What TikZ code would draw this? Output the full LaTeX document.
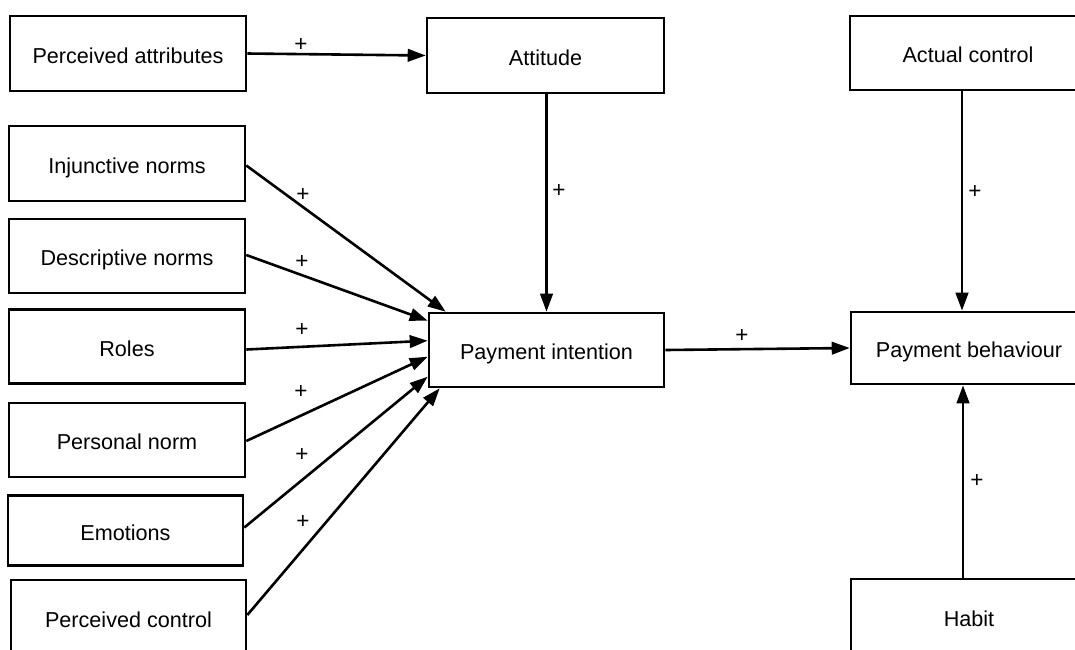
\documentclass[tikz,border=0pt]{standalone}
\usepackage{fontspec}
\setmainfont{Liberation Sans}
\usetikzlibrary{arrows.meta,calc}
\begin{document}
\begin{tikzpicture}[x=1pt,y=-1pt,
  box/.style={draw=black, line width=2.6pt, fill=white, minimum width=236pt, minimum height=75pt, inner sep=0pt, text height=20pt, text depth=0.5pt, font=\fontsize{21.6}{25}\selectfont},
  conn/.style={line width=2.6pt, -{Triangle[length=18pt,width=12.5pt]}},
  lbl/.style={font=\fontsize{22.5}{25}\selectfont, inner sep=0pt}]
\clip (0,0) rectangle (1075,649);
\fill[white] (0,0) rectangle (1075,649);
% boxes
\node[box] (pa) at (128,53.5) {Perceived attributes};
\node[box, minimum width=237pt] (att) at (545.5,55.5) {Attitude};
\node[box, minimum height=74pt] (ac) at (968,53) {Actual control};
\node[box] (inj) at (127,163.5) {Injunctive norms};
\node[box, minimum height=74pt] (des) at (127,256) {Descriptive norms};
\node[box, minimum height=74pt] (roles) at (127,346.5) {Roles};
\node[box, minimum height=74pt] (pn) at (127,440) {Personal norm};
\node[box, minimum width=235pt, minimum height=70pt] (emo) at (125.5,530.5) {Emotions};
\node[box, minimum width=235pt, minimum height=76pt] (pc) at (128.5,618) {Perceived control};
\node[box, minimum width=235pt, minimum height=74pt] (pi) at (546.5,350) {Payment intention};
\node[box, minimum height=72pt] (pb) at (969,348) {Payment behaviour};
\node[box, minimum height=76pt] (hab) at (969,617) {Habit};
% connectors
\draw[conn] (pa.east) -- (att.west);
\draw[conn] ($(att.south)+(1,0)$) -- ($(pi.north)+(0,0)$);
\draw[conn] ($(ac.south)+(-6,0)$) -- ($(pb.north)+(-7,0)$);
\draw[conn] ($(hab.north)+(-6,0)$) -- ($(pb.south)+(-6,0)$);
\draw[conn] (pi.east) -- ($(pb.west)+(0,0)$);
\draw[conn] ($(inj.east)+(0,2)$) -- ($(pi.north west)+(18,0)$);
\draw[conn] ($(des.east)+(0,-1)$) -- ($(pi.north west)+(0,9)$);
\draw[conn] ($(roles.east)+(0,3)$) -- ($(pi.north west)+(0,29)$);
\draw[conn] ($(pn.east)+(0,1)$) -- ($(pi.north west)+(0,45)$);
\draw[conn] ($(emo.east)+(0,-3)$) -- ($(pi.north west)+(0,65)$);
\draw[conn] ($(pc.east)+(0,-3)$) -- ($(pi.south west)+(12,0)$);
% labels
\node[lbl] (l1) at (301,45) {+};
\node[lbl] (l2) at (303,195) {+};
\node[lbl] (l3) at (302,262) {+};
\node[lbl] (l4) at (302,330) {+};
\node[lbl] (l5) at (301,392) {+};
\node[lbl] (l6) at (302,455) {+};
\node[lbl] (l7) at (303,522) {+};
\node[lbl] (l8) at (559,191) {+};
\node[lbl] (l9) at (742,336) {+};
\node[lbl] (l10) at (975,192) {+};
\node[lbl] (l11) at (977,481) {+};
\end{tikzpicture}
\end{document}
